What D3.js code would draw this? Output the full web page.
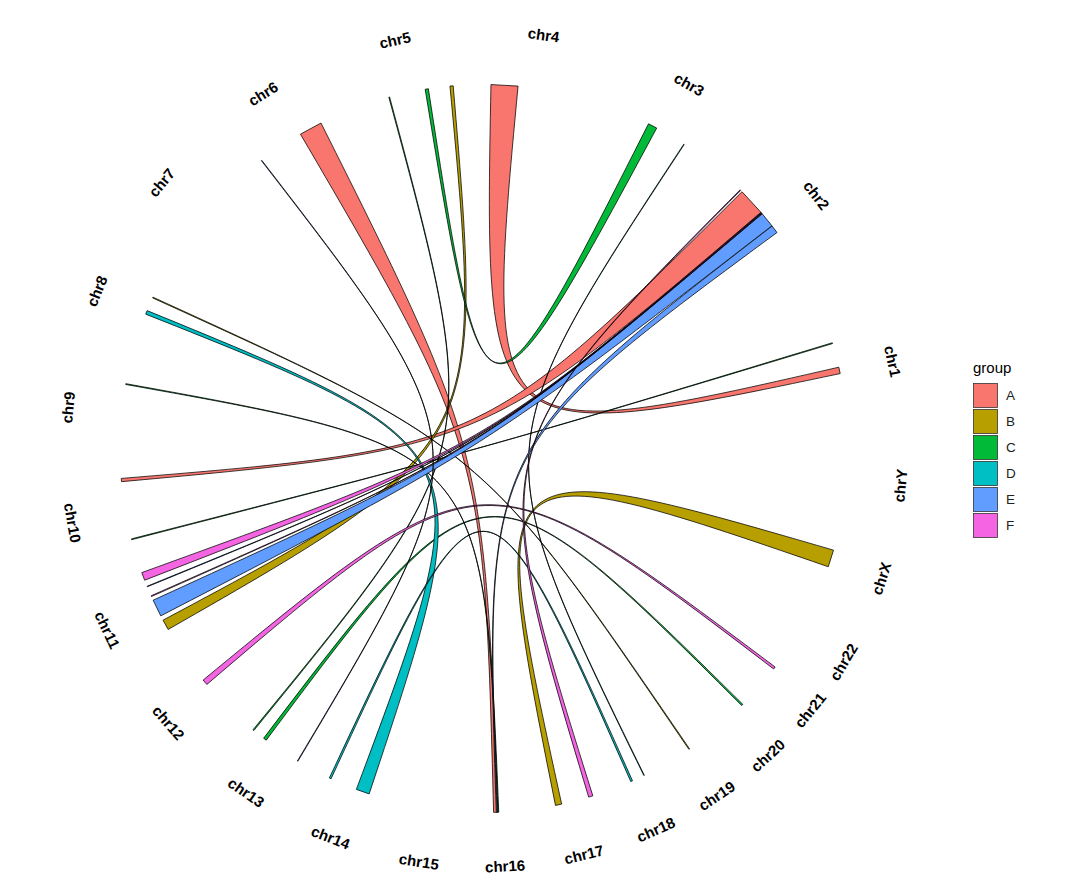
<!DOCTYPE html>
<html>
<head>
<meta charset="utf-8">
<script src="https://cdn.jsdelivr.net/npm/d3@7"></script>
<style>
  html, body { margin: 0; padding: 0; background: #ffffff; }
  svg { display: block; }
</style>
</head>
<body>
<svg id="chart" width="1080" height="895"></svg>
<script>
// ---------------- data ----------------
const chromosomes = ["chr1","chr2","chr3","chr4","chr5","chr6","chr7","chr8","chr9","chr10",
  "chr11","chr12","chr13","chr14","chr15","chr16","chr17","chr18","chr19","chr20","chr21","chr22","chrX","chrY"];
// chromosome lengths (Mb)
const chromLengths = [249.25,243.2,198.0,191.15,180.9,171.1,159.1,146.4,141.2,135.5,
  135.0,133.85,115.2,107.35,102.5,90.35,81.2,78.1,59.1,63.0,48.1,51.3,155.3,59.4];

const groups = ["A","B","C","D","E","F"];
const groupColors = ["#F8766D","#B79F00","#00BA38","#00BFC4","#619CFF","#F564E3"];

// links (positions in Mb)
const linkGroup = ["A","A","A","B","B","B","C","C","C","C","C","D","D","D","E","E","E","E","F","F","F","F"];
const fromChr   = ["chr4","chr6","chr2","chr5","chrX","chr8","chr3","chr13","chr5","chr1","chr9","chr14","chr14","chr3","chr11","chr2","chr6","chr11","chr12","chr2","chr11","chr11"];
const fromStart = [119, 28, 136.5, 1, 45, 59, 95, 39, 120, 155, 33.5, 73, 19, 36, 72, 89, 157, 44, 64.5, 191.5, 17, 63];
const fromEnd   = [169, 71, 188, 7, 77, 60.5, 112, 45, 121.5, 156.5, 35, 98, 22.5, 37, 104, 104, 158, 45, 75, 193, 32, 64.5];
const toChr     = ["chr1","chr16","chr10","chr11","chr17","chr19","chr5","chr20","chr13","chr10","chr16","chr8","chr18","chr18","chr2","chr16","chr13","chr2","chr21","chr17","chr2","chr2"];
const toStart   = [98, 28, 21, 113, 6, 22, 47, 43, 14, 134, 36, 86, 24, 50.5, 104.5, 33, 114, 134.2, 23, 69, 135.2, 133.2];
const toEnd     = [110, 36, 27, 132.5, 17.6, 23.5, 53, 46, 16, 135.5, 37.5, 93, 27.5, 51.5, 133, 34.5, 115, 134.8, 27.5, 77, 136.2, 134];

// ---------------- layout ----------------
const svg = d3.select("#chart");
const cx = 484, cy = 448.5, R = 364, Rlab = 418;
const startDeg = 3.5;
const total = d3.sum(chromLengths);
const gap = 0.015 * total;
const chrOffset = {};
let acc = 0;
chromosomes.forEach((c, i) => { chrOffset[c] = acc; acc += chromLengths[i] + gap; });
const angle = d3.scaleLinear().domain([0, acc]).range([startDeg, startDeg + 360]);
const color = d3.scaleOrdinal().domain(groups).range(groupColors);

function pt(chr, pos, r) {
  const t = angle(chrOffset[chr] + pos) * Math.PI / 180;
  return [cx + r * Math.cos(t), cy - r * Math.sin(t)];
}

// ---------------- links ----------------
const links = linkGroup.map((g, i) => ({
  group: g, fc: fromChr[i], fs: fromStart[i], fe: fromEnd[i],
  tc: toChr[i], ts: toStart[i], te: toEnd[i]
}));

function ribbon(d) {
  const a1 = pt(d.fc, d.fs, R), a2 = pt(d.fc, d.fe, R);
  const b1 = pt(d.tc, d.ts, R), b2 = pt(d.tc, d.te, R);
  const p = d3.path();
  p.moveTo(a1[0], a1[1]);
  p.lineTo(a2[0], a2[1]);
  p.bezierCurveTo(cx, cy, cx, cy, b1[0], b1[1]);
  p.lineTo(b2[0], b2[1]);
  p.bezierCurveTo(cx, cy, cx, cy, a1[0], a1[1]);
  p.closePath();
  return p.toString();
}

svg.append("g").selectAll("path")
  .data(links).enter().append("path")
  .attr("d", ribbon)
  .attr("fill", d => color(d.group))
  .attr("stroke", "#000")
  .attr("stroke-width", 0.75)
  .attr("stroke-linejoin", "round");

// ---------------- chromosome labels ----------------
svg.append("g").selectAll("text")
  .data(chromosomes).enter().append("text")
  .attr("transform", (c, i) => {
    const a = angle(chrOffset[c] + chromLengths[i] / 2);
    const ar = a * Math.PI / 180;
    const la = a - 0.3 - 1.8 * Math.cos(ar) - 0.3 * Math.sin(ar);
    const t = la * Math.PI / 180;
    const x = cx + Rlab * Math.cos(t), y = cy - Rlab * Math.sin(t);
    let rot = 90 - la;
    while (rot > 90) rot -= 180;
    while (rot <= -90) rot += 180;
    return `translate(${x},${y}) rotate(${rot})`;
  })
  .attr("text-anchor", "middle")
  .attr("dominant-baseline", "central")
  .style("font-family", "'Liberation Sans', Arial, sans-serif")
  .style("font-weight", "bold")
  .style("font-size", "15px")
  .attr("fill", "#000")
  .text(c => c);

// ---------------- legend ----------------
const leg = svg.append("g").attr("transform", "translate(973,383)");
leg.append("text").attr("x", 0).attr("y", -10)
  .style("font-family", "'Liberation Sans', Arial, sans-serif")
  .style("font-size", "15px").attr("fill", "#000").text("group");
const items = leg.selectAll("g.item").data(groups).enter().append("g")
  .attr("transform", (g, i) => `translate(0,${i * 26})`);
items.append("rect").attr("x", 0.5).attr("y", 0.5).attr("width", 24).attr("height", 24)
  .attr("fill", g => color(g)).attr("stroke", "#333").attr("stroke-width", 0.8);
items.append("text").attr("x", 33).attr("y", 12.5).attr("dominant-baseline", "central")
  .style("font-family", "'Liberation Sans', Arial, sans-serif")
  .style("font-size", "13.5px").attr("fill", "#222").text(g => g);
</script>
</body>
</html>
